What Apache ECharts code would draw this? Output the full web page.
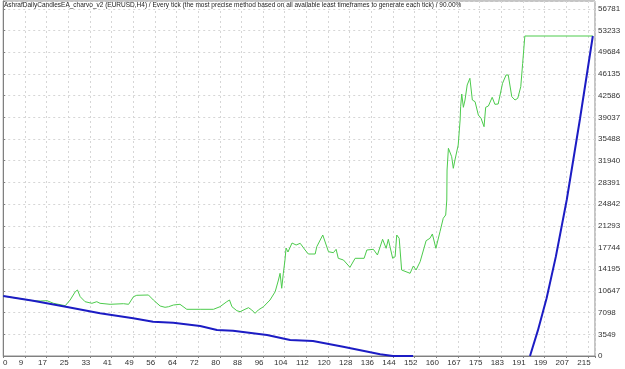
<!DOCTYPE html>
<html>
<head>
<meta charset="utf-8">
<script src="https://cdn.jsdelivr.net/npm/echarts@6/dist/echarts.min.js"></script>
<style>
    html, body { margin: 0; padding: 0; background: #fff; }
    #tester { width: 625px; height: 369px; }
</style>
</head>
<body>
<div id="tester"></div>
<script>
// tick labels
var xTickLabels = ['0', '9', '17', '25', '33', '41', '49', '56', '64', '72', '80', '88', '96', '104',
    '112', '120', '128', '136', '144', '152', '160', '167', '175', '183', '191', '199', '207', '215'];
var yTickLabels = ['0', '3549', '7098', '10647', '14195', '17744', '21293', '24842', '28391',
    '31940', '35488', '39037', '42586', '46135', '49684', '53233', '56781'];

// balance (blue) - trade number / value, null = no line drawn
var balanceX = [0, 11, 23.5, 35.6, 47.8, 55.1, 62.5, 72.4, 78.6, 84.5, 97, 105.5, 113.9, 125, 138.6, 143.3, 150.7,
    172, 193.7, 196.6, 199.8, 203.2, 207.2, 212.1, 216.8];
var balanceY = [9800, 9040, 8013, 6983, 6165, 5609, 5446, 4906, 4252, 4137, 3434, 2617, 2453, 1521, 278, 0, 0,
    null, 0, 4187, 9436, 16250, 25512, 38840, 52333];

// equity (green)
var equityX = [0, 11, 13.6, 16.1, 18.5, 22.8, 24.6, 26.5, 27.3, 28.3, 30.1, 32.6, 34.4, 35.6, 39.3, 44.2, 46.1,
    47.9, 49.1, 53.4, 55.2, 57.7, 59.5, 60.2, 60.8, 62.6, 65, 67.5, 72.4, 77.3, 79.7, 82.2, 83.2, 84.1, 85.9,
    87.1, 88.9, 90.2, 91.4, 92.6, 93.8, 95.7, 98.1, 100, 101.2, 101.8, 102.4, 103, 103.6, 104, 104.7, 106.2,
    107.7, 109.2, 111, 112.2, 114.7, 115.3, 117.5, 119.6, 121.4, 122.4, 123.2, 125.1, 127.5, 129.4, 132.7,
    133.7, 136.1, 137.6, 139.5, 140.8, 141.6, 143.2, 144.1, 144.7, 145.6, 146.5, 149.6, 150.8, 151.8, 153.3,
    155.5, 156.9, 157.8, 159.1, 159.6, 160.6, 161.8, 162.7, 163.1, 163.2, 163.7, 164.9, 165.5, 166.1, 167.3,
    168, 168.2, 168.6, 169.2, 169.8, 170.6, 171.6, 172.5, 173.5, 174.7, 175.7, 176.8, 177.4, 178.4, 179.8,
    180.8, 182, 183.6, 184.9, 185.7, 187, 188.2, 189.2, 190.3, 191, 191.8, 216.8];
var equityY = [9800, 9040, 8995, 9044, 8618, 8226, 9158, 10516, 10794, 9698, 8880, 8618, 8880, 8618, 8455, 8553, 8455,
    9698, 9927, 9976, 9158, 8177, 7964, 7637, 8062, 8340, 8455, 7637, 7637, 7637, 8062, 8880, 9158, 8062, 7408,
    7245, 7637, 7899, 7523, 6983, 7523, 8062, 9158, 10516, 12429, 13525, 11078, 13525, 15700, 17662, 17008, 18480,
    18153, 18431, 17335, 16681, 16681, 17875, 19788, 17057, 16894, 17450, 15978, 15700, 14506, 15978, 15978,
    17335, 17450, 16518, 19085, 17613, 19085, 15978, 16239, 19788, 19249, 14064, 13525, 14719, 14064, 15422,
    18856, 19249, 19952, 17613, 17613, 20328, 22520, 23059, 25512, 30418, 33967, 32593, 30696, 32054, 34507,
    38595, 40770, 42847, 40672, 41866, 44319, 45415, 41866, 41588, 39413, 38873, 37499, 40672, 40885, 42308,
    41163, 41212, 44597, 45955, 45955, 42406, 41866, 42144, 44041, 47868, 52333, 52333];

var titleText = 'AshrafDailyCandlesEA_charvo_v2 (EURUSD,H4) / Every tick (the most precise method based on all available least timeframes to generate each tick) / 90.00%';

var xStep = 215 / 27;
var yStep = 56781 / 16;

function pairs(xs, ys) {
    var out = [];
    for (var i = 0; i < xs.length; i++) {
        out.push(ys[i] === null ? [xs[i], '-'] : [xs[i], ys[i]]);
    }
    return out;
}

function tickText(labels, step, v) {
    var k = Math.round(v / step);
    if (Math.abs(v - k * step) > step * 0.05 || k >= labels.length) return '';
    return labels[k];
}

var chart = echarts.init(document.getElementById('tester'));

chart.setOption({
    backgroundColor: '#ffffff',
    animation: false,
    title: {
        text: titleText,
        left: 4,
        top: 2,
        padding: 0,
        textStyle: {
            fontSize: 6.5,
            fontWeight: 'normal',
            fontFamily: 'Liberation Sans',
            color: '#222'
        }
    },
    grid: {
        left: 3,
        right: 30,
        top: 1,
        bottom: 13,
        show: true,
        borderColor: '#8a8a8a',
        borderWidth: 1
    },
    xAxis: {
        type: 'value',
        min: 0,
        max: 217.6,
        interval: xStep,
        axisLine: {show: true, lineStyle: {color: '#808080'}},
        axisTick: {show: true, length: 2, lineStyle: {color: '#808080'}},
        axisLabel: {
            fontSize: 8,
            fontFamily: 'Liberation Sans',
            color: '#333',
            margin: 3,
            padding: [0, 8, 0, 0],
            formatter: function (v) {
                var t = tickText(xTickLabels, xStep, v);
                return t === '0' ? '{first|0}' : t;
            },
            rich: {
                first: {fontSize: 8, fontFamily: 'Liberation Sans', color: '#333', padding: [0, 0, 0, 12]}
            }
        },
        splitLine: {show: true, lineStyle: {color: '#d6d6d6', type: [2, 3]}}
    },
    yAxis: {
        type: 'value',
        position: 'right',
        min: 0,
        max: 58057,
        interval: yStep,
        axisLine: {show: true, lineStyle: {color: '#808080'}},
        axisTick: {show: true, length: 2, lineStyle: {color: '#808080'}},
        axisLabel: {
            fontSize: 8,
            fontFamily: 'Liberation Sans',
            color: '#333',
            margin: 3,
            formatter: function (v) {
                return tickText(yTickLabels, yStep, v);
            }
        },
        splitLine: {show: true, lineStyle: {color: '#d6d6d6', type: [2, 3]}}
    },
    series: [
        {
            name: 'Equity',
            type: 'line',
            showSymbol: false,
            data: pairs(equityX, equityY),
            lineStyle: {color: '#4ccb4c', width: 1},
            itemStyle: {color: '#4ccb4c'}
        },
        {
            name: 'Balance',
            type: 'line',
            showSymbol: false,
            connectNulls: false,
            data: pairs(balanceX, balanceY),
            lineStyle: {color: '#1c1cc4', width: 2},
            itemStyle: {color: '#1c1cc4'}
        }
    ]
});

window.onresize = function () {
    chart.resize();
};
</script>
</body>
</html>
